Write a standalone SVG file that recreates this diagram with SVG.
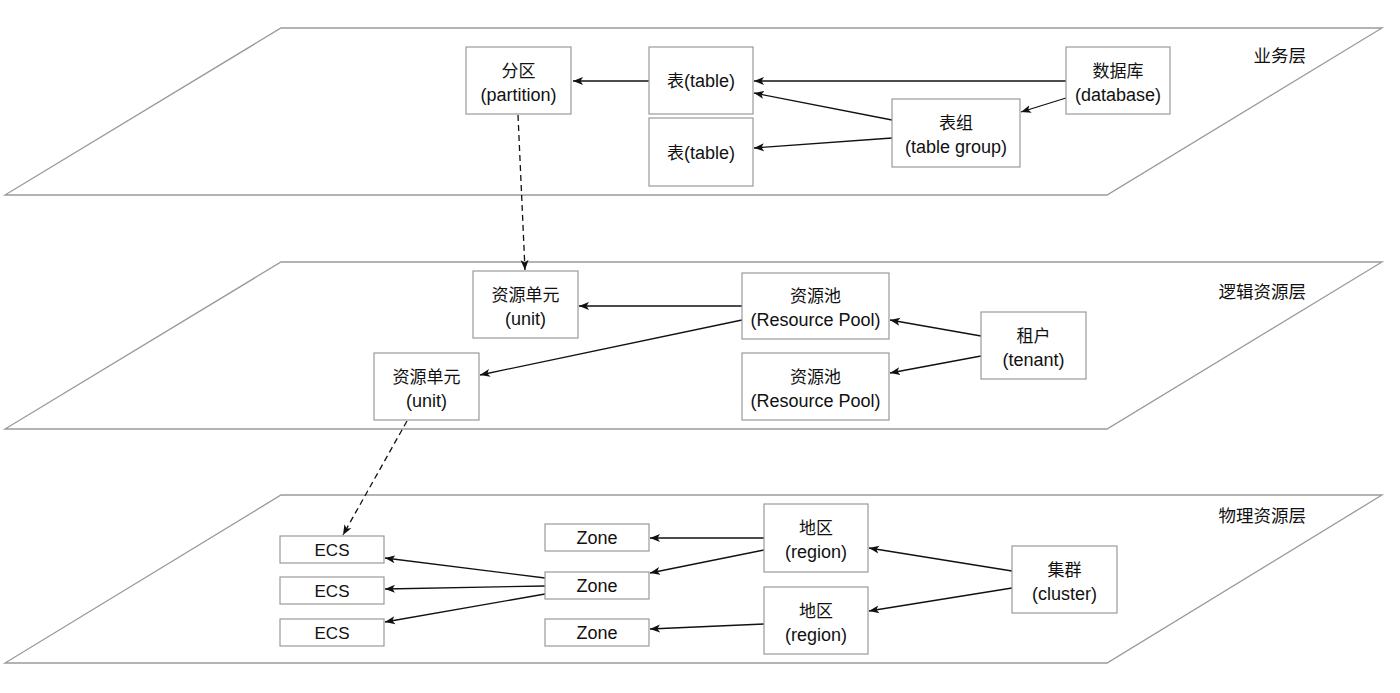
<svg xmlns="http://www.w3.org/2000/svg" width="1400" height="693" viewBox="0 0 1400 693">
<style>
.layer{fill:#fff;stroke:#9a9a9a;stroke-width:1.3}
.box{fill:#fff;stroke:#9a9a9a;stroke-width:1.2}
text{font-family:"Liberation Sans","Noto Sans CJK SC",sans-serif;font-size:17px;fill:#111;text-anchor:middle}
.l{font-size:18px}
.lbl{text-anchor:end;font-size:17.5px}
.e{fill:none;stroke:#111;stroke-width:1.3;marker-end:url(#ah)}
.d{stroke-dasharray:6 4}
</style>
<defs>
<marker id="ah" markerUnits="userSpaceOnUse" markerWidth="11" markerHeight="9" refX="10" refY="4.5" orient="auto">
<path d="M0,0.5 L10,4.5 L0,8.5 L2.5,4.5 z" fill="#111"/>
</marker>
</defs>
<rect width="1400" height="693" fill="#fff"/>
<g id="layers">
<polygon class="layer" points="281,28 1382,28 1107,195 5,195"/>
<polygon class="layer" points="281,262 1382,262 1107,429 5,429"/>
<polygon class="layer" points="281,495 1382,495 1107,663 5,663"/>
<text class="lbl" x="1306" y="62">业务层</text>
<text class="lbl" x="1306" y="298">逻辑资源层</text>
<text class="lbl" x="1306" y="522">物理资源层</text>
</g>
<g id="connectors">
<line class="e" x1="649" y1="81" x2="573" y2="81"/>
<line class="e" x1="1066" y1="81" x2="754" y2="81"/>
<line class="e" x1="892" y1="120" x2="754" y2="93"/>
<line class="e" x1="892" y1="138" x2="754" y2="148"/>
<line class="e" x1="1066" y1="98" x2="1021" y2="112"/>
<line class="e d" x1="518" y1="115" x2="525" y2="270"/>
<line class="e" x1="742" y1="306" x2="579" y2="306"/>
<line class="e" x1="742" y1="320" x2="480" y2="375"/>
<line class="e" x1="981" y1="336" x2="890" y2="320"/>
<line class="e" x1="981" y1="356" x2="890" y2="373"/>
<line class="e d" x1="407" y1="421" x2="343" y2="535"/>
<line class="e" x1="764" y1="538" x2="650" y2="538"/>
<line class="e" x1="764" y1="550" x2="650" y2="573"/>
<line class="e" x1="764" y1="624" x2="650" y2="629"/>
<line class="e" x1="1012" y1="571" x2="869" y2="548"/>
<line class="e" x1="1012" y1="588" x2="869" y2="611"/>
<line class="e" x1="545" y1="578" x2="385" y2="558"/>
<line class="e" x1="545" y1="586" x2="385" y2="589"/>
<line class="e" x1="545" y1="594" x2="385" y2="622"/>
</g>
<g id="n-partition"><rect class="box" x="466" y="47" width="105" height="67"/><text x="518.5" y="77">分区</text><text class="l" x="518.5" y="101">(partition)</text></g>
<g id="n-table1"><rect class="box" x="649" y="47" width="104" height="67"/><text x="701" y="87">表<tspan class="l">(table)</tspan></text></g>
<g id="n-table2"><rect class="box" x="649" y="118" width="104" height="68"/><text x="701" y="159">表<tspan class="l">(table)</tspan></text></g>
<g id="n-database"><rect class="box" x="1066" y="47" width="104" height="67"/><text x="1118" y="77">数据库</text><text class="l" x="1118" y="101">(database)</text></g>
<g id="n-tablegroup"><rect class="box" x="892" y="99" width="128" height="68"/><text x="956" y="129">表组</text><text class="l" x="956" y="153">(table group)</text></g>
<g id="n-unit1"><rect class="box" x="473" y="271" width="105" height="67"/><text x="525.5" y="301">资源单元</text><text class="l" x="525.5" y="325">(unit)</text></g>
<g id="n-unit2"><rect class="box" x="374" y="353" width="105" height="67"/><text x="426.5" y="383">资源单元</text><text class="l" x="426.5" y="407">(unit)</text></g>
<g id="n-pool1"><rect class="box" x="742" y="273" width="147" height="66"/><text x="815.5" y="302">资源池</text><text class="l" x="815.5" y="326">(Resource Pool)</text></g>
<g id="n-pool2"><rect class="box" x="742" y="353" width="147" height="67"/><text x="815.5" y="383">资源池</text><text class="l" x="815.5" y="407">(Resource Pool)</text></g>
<g id="n-tenant"><rect class="box" x="981" y="312" width="105" height="67"/><text x="1033.5" y="342">租户</text><text class="l" x="1033.5" y="366">(tenant)</text></g>
<g id="n-ecs1"><rect class="box" x="280" y="536" width="104" height="27"/><text x="332" y="556">ECS</text></g>
<g id="n-ecs2"><rect class="box" x="280" y="577" width="104" height="27"/><text x="332" y="597">ECS</text></g>
<g id="n-ecs3"><rect class="box" x="280" y="619" width="104" height="27"/><text x="332" y="639">ECS</text></g>
<g id="n-zone1"><rect class="box" x="545" y="524" width="104" height="27"/><text class="l" x="597" y="544">Zone</text></g>
<g id="n-zone2"><rect class="box" x="545" y="572" width="104" height="27"/><text class="l" x="597" y="592">Zone</text></g>
<g id="n-zone3"><rect class="box" x="545" y="619" width="104" height="27"/><text class="l" x="597" y="639">Zone</text></g>
<g id="n-region1"><rect class="box" x="764" y="504" width="104" height="68"/><text x="816" y="534">地区</text><text class="l" x="816" y="558">(region)</text></g>
<g id="n-region2"><rect class="box" x="764" y="587" width="104" height="67"/><text x="816" y="617">地区</text><text class="l" x="816" y="641">(region)</text></g>
<g id="n-cluster"><rect class="box" x="1012" y="546" width="105" height="67"/><text x="1064.5" y="576">集群</text><text class="l" x="1064.5" y="600">(cluster)</text></g>
</svg>
